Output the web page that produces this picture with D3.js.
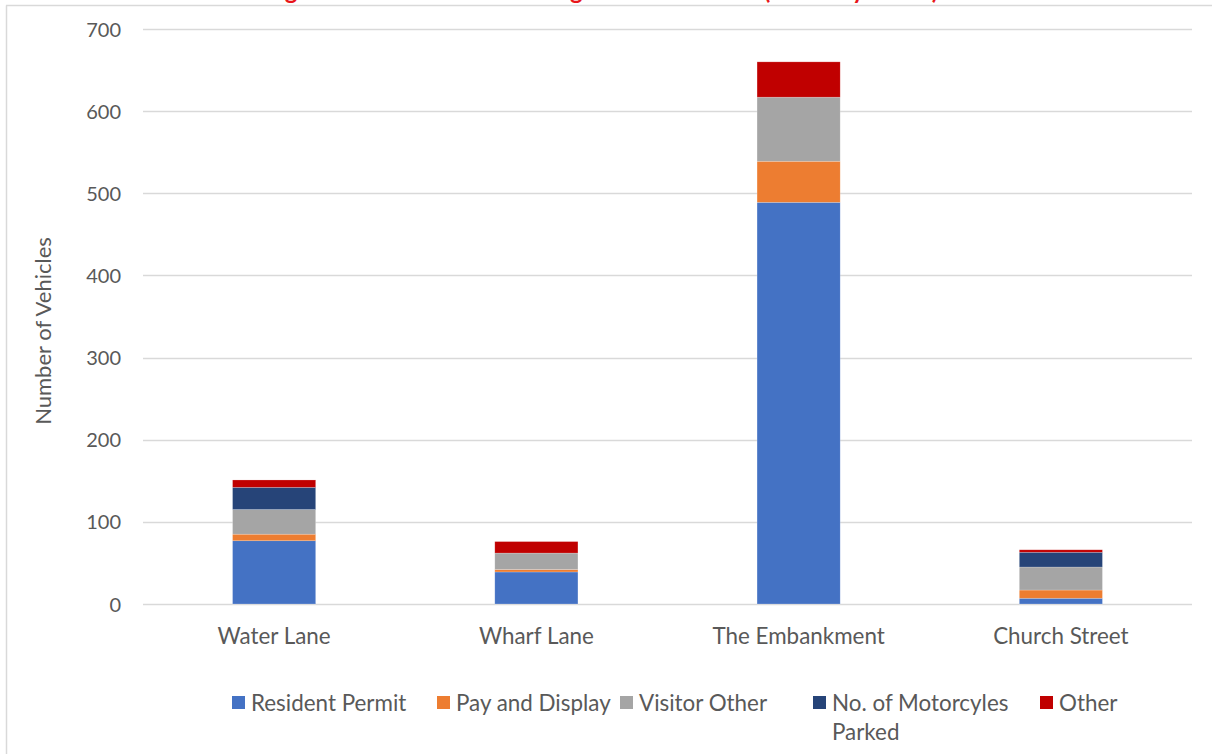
<!DOCTYPE html>
<html>
<head>
<meta charset="utf-8">
<script src="https://cdn.jsdelivr.net/npm/d3@7"></script>
<style>
  html, body { margin: 0; padding: 0; background: #fff; }
  svg { display: block; }
  text { font-family: Lato, "Open Sans", sans-serif; }
</style>
</head>
<body>
<svg id="chart" width="1212" height="754"></svg>
<script>
// Parking survey: vehicles counted on each street, stacked by type
const streets = ["Water Lane", "Wharf Lane", "The Embankment", "Church Street"];
const seriesNames = ["Resident Permit", "Pay and Display", "Visitor Other", "No. of Motorcyles Parked", "Other"];
const residentPermit = [77, 39, 489, 7];
const payAndDisplay  = [8, 3, 50, 10];
const visitorOther   = [30, 20, 78, 28];
const motorcycles    = [27, 0, 0, 18];
const other          = [9, 14, 43, 3];
const yTicks = [0, 100, 200, 300, 400, 500, 600, 700];
const colors = ["#4472C4", "#ED7D31", "#A5A5A5", "#264478", "#C00000"];
const titleText = "Average Vehicle Numbers Parking on Local Streets (Saturday 11:00)";

const rows = streets.map((s, i) => ({
  street: s,
  "Resident Permit": residentPermit[i],
  "Pay and Display": payAndDisplay[i],
  "Visitor Other": visitorOther[i],
  "No. of Motorcyles Parked": motorcycles[i],
  "Other": other[i]
}));

const svg = d3.select("#chart");
const textColor = "#595959";
const gridColor = "#D9D9D9";
const labelSize = 22.4;

// chart area frame
svg.append("line").attr("x1", 6.5).attr("x2", 6.5).attr("y1", 5.5).attr("y2", 754)
  .attr("stroke", gridColor).attr("stroke-width", 1.5);
svg.append("line").attr("x1", 6).attr("x2", 1212).attr("y1", 5.5).attr("y2", 5.5)
  .attr("stroke", gridColor).attr("stroke-width", 1.5);

// title (sits above the frame, mostly outside the page)
svg.append("text")
  .attr("x", 223).attr("y", -1)
  .attr("text-anchor", "start")
  .attr("font-size", 24).attr("font-weight", "bold")
  .attr("fill", "#E8161B")
  .text(titleText);

const x = d3.scaleBand().domain(streets).range([143, 1192]).paddingInner(0.683).paddingOuter(0.3415);
const y = d3.scaleLinear().domain([0, 700]).range([604, 29]);

// gridlines
svg.append("g")
  .selectAll("line").data(yTicks).join("line")
  .attr("x1", 143).attr("x2", 1192)
  .attr("y1", d => Math.round(y(d)) + 0.5).attr("y2", d => Math.round(y(d)) + 0.5)
  .attr("stroke", gridColor).attr("stroke-width", 1.3);

// y axis labels
const yAxis = svg.append("g").attr("transform", "translate(121,0)")
  .call(d3.axisLeft(y).tickValues(yTicks).tickSize(0).tickPadding(0));
yAxis.select(".domain").remove();
yAxis.selectAll("text").attr("font-size", 20).attr("fill", textColor)
  .attr("font-family", "Lato, sans-serif").attr("dy", "0.35em");

// x axis labels
const xAxis = svg.append("g").attr("transform", "translate(0,604)")
  .call(d3.axisBottom(x).tickSize(0).tickPadding(0));
xAxis.select(".domain").remove();
xAxis.selectAll("text").attr("font-size", labelSize).attr("fill", textColor)
  .attr("font-family", "Lato, sans-serif").attr("y", 40).attr("dy", 0);

// y axis title
svg.append("text")
  .attr("transform", "translate(51,331) rotate(-90)")
  .attr("text-anchor", "middle")
  .attr("font-size", 22).attr("fill", textColor)
  .text("Number of Vehicles");

// stacked bars
const stacked = d3.stack().keys(seriesNames)(rows);
svg.append("g").selectAll("g").data(stacked).join("g")
  .attr("fill", (d, i) => colors[i])
  .selectAll("rect").data(d => d).join("rect")
  .attr("x", d => x(d.data.street))
  .attr("width", x.bandwidth())
  .attr("y", d => y(d[1]))
  .attr("height", d => y(d[0]) - y(d[1]))
  .attr("stroke", "#fff").attr("stroke-opacity", 0.35).attr("stroke-width", 0.6);

// legend
const legendItems = [
  { name: ["Resident Permit"], x: 232 },
  { name: ["Pay and Display"], x: 437 },
  { name: ["Visitor Other"], x: 620 },
  { name: ["No. of Motorcyles", "Parked"], x: 813 },
  { name: ["Other"], x: 1040 }
];
const legend = svg.append("g");
legendItems.forEach((item, i) => {
  legend.append("rect").attr("x", item.x).attr("y", 696).attr("width", 13).attr("height", 13)
    .attr("fill", colors[i]);
  const t = legend.append("text").attr("x", item.x + 19).attr("y", 711)
    .attr("font-size", labelSize).attr("fill", textColor);
  item.name.forEach((line, j) => {
    t.append("tspan").attr("x", item.x + 19).attr("dy", j === 0 ? 0 : 29).text(line);
  });
});
</script>
</body>
</html>
